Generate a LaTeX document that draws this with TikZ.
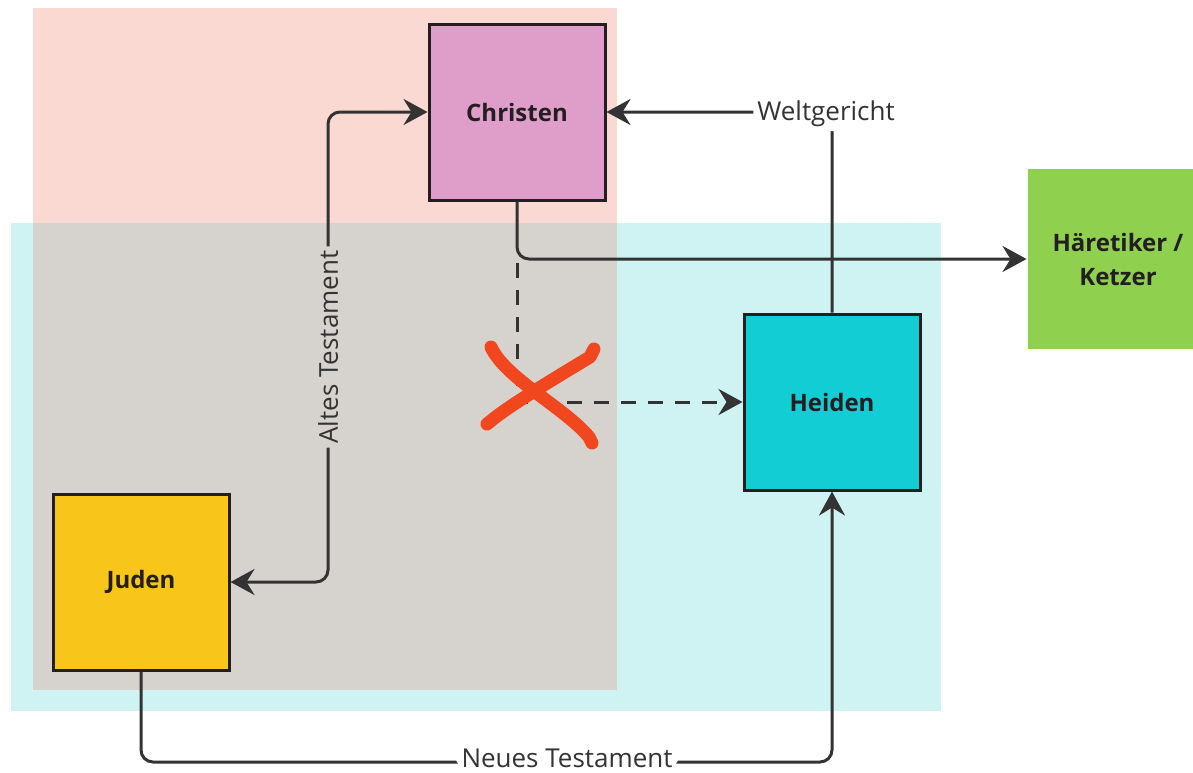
\documentclass[tikz,border=0pt]{standalone}
\usepackage{fontspec}
\setmainfont{Open Sans}
\usetikzlibrary{arrows.meta}
\definecolor{pinkbg}{HTML}{FBD9D3}
\definecolor{cyanbg}{HTML}{CFF3F3}
\definecolor{graybg}{HTML}{D6D3CF}
\definecolor{christenfill}{HTML}{DF9DCA}
\definecolor{heidenfill}{HTML}{13CDD4}
\definecolor{judenfill}{HTML}{F8C51A}
\definecolor{haerfill}{HTML}{8FD14F}
\definecolor{boxline}{HTML}{231F20}
\definecolor{lineclr}{HTML}{333333}
\definecolor{labclr}{HTML}{333333}
\definecolor{xred}{HTML}{F1471F}
\begin{document}
\begin{tikzpicture}[x=1pt,y=-1pt,
  box/.style={draw=boxline, line width=3pt, minimum width=176pt, minimum height=176pt,
    inner sep=0pt, align=center, text=boxline,
    font=\fontsize{24}{34}\selectfont\bfseries},
  conn/.style={draw=lineclr, line width=3pt, rounded corners=12pt, -{Stealth[length=24pt,width=26pt,inset=8pt]}},
  lab/.style={font=\fontsize{26}{30}\selectfont, text=labclr, inner sep=4pt},
  cross/.style={draw=xred, line width=13pt, line cap=round, line join=round}
]
\useasboundingbox (0,0) rectangle (1193,772);
% background regions
\fill[cyanbg] (11,223) rectangle (941,711);
\fill[graybg] (33,223) rectangle (617,690);
\fill[pinkbg] (33,8) rectangle (617,223);

% boxes
\node[box, fill=christenfill] (christen) at (517,112) {Christen};
\node[box, fill=heidenfill] (heiden) at (832,402) {Heiden};
\node[box, fill=judenfill] (juden) at (141,582) {Juden};
\node[box, draw=none, fill=haerfill, minimum width=180pt, minimum height=180pt] (haer) at (1118,259) {Häretiker /\\Ketzer};

\coordinate (split) at (517,263);
\coordinate (atop) at (328,112);
\coordinate (nb) at (567,762);

% connectors
\draw[conn] (heiden.north) |- node[pos=0.5, lab, fill=white, xshift=-6pt, yshift=-2pt]{Weltgericht} (christen.east);
\draw[conn] (christen.south) |- (haer.west);
\draw[conn, rounded corners=0pt, dash pattern=on 15pt off 12pt] (split) |- (heiden.west);
\draw[conn, {Stealth[length=24pt,width=26pt,inset=8pt]}-{Stealth[length=24pt,width=26pt,inset=8pt]}]
  (juden.east) -| node[pos=0.75, lab, fill=white, fill=graybg, rotate=90]{Altes Testament} (atop) -- (christen.west);
\draw[conn] (juden.south) |- (nb) node[lab, fill=white, yshift=4pt, inner xsep=6pt, inner ysep=1pt]{Neues Testament} -| (heiden.south);

% red cross
\draw[cross] (491,347) .. controls (505,378) and (565,408) .. (589,437) -- (592,443);
\draw[cross] (594,349) -- (590,357) .. controls (565,372) and (510,405) .. (492,420) -- (487,424);
\end{tikzpicture}
\end{document}
